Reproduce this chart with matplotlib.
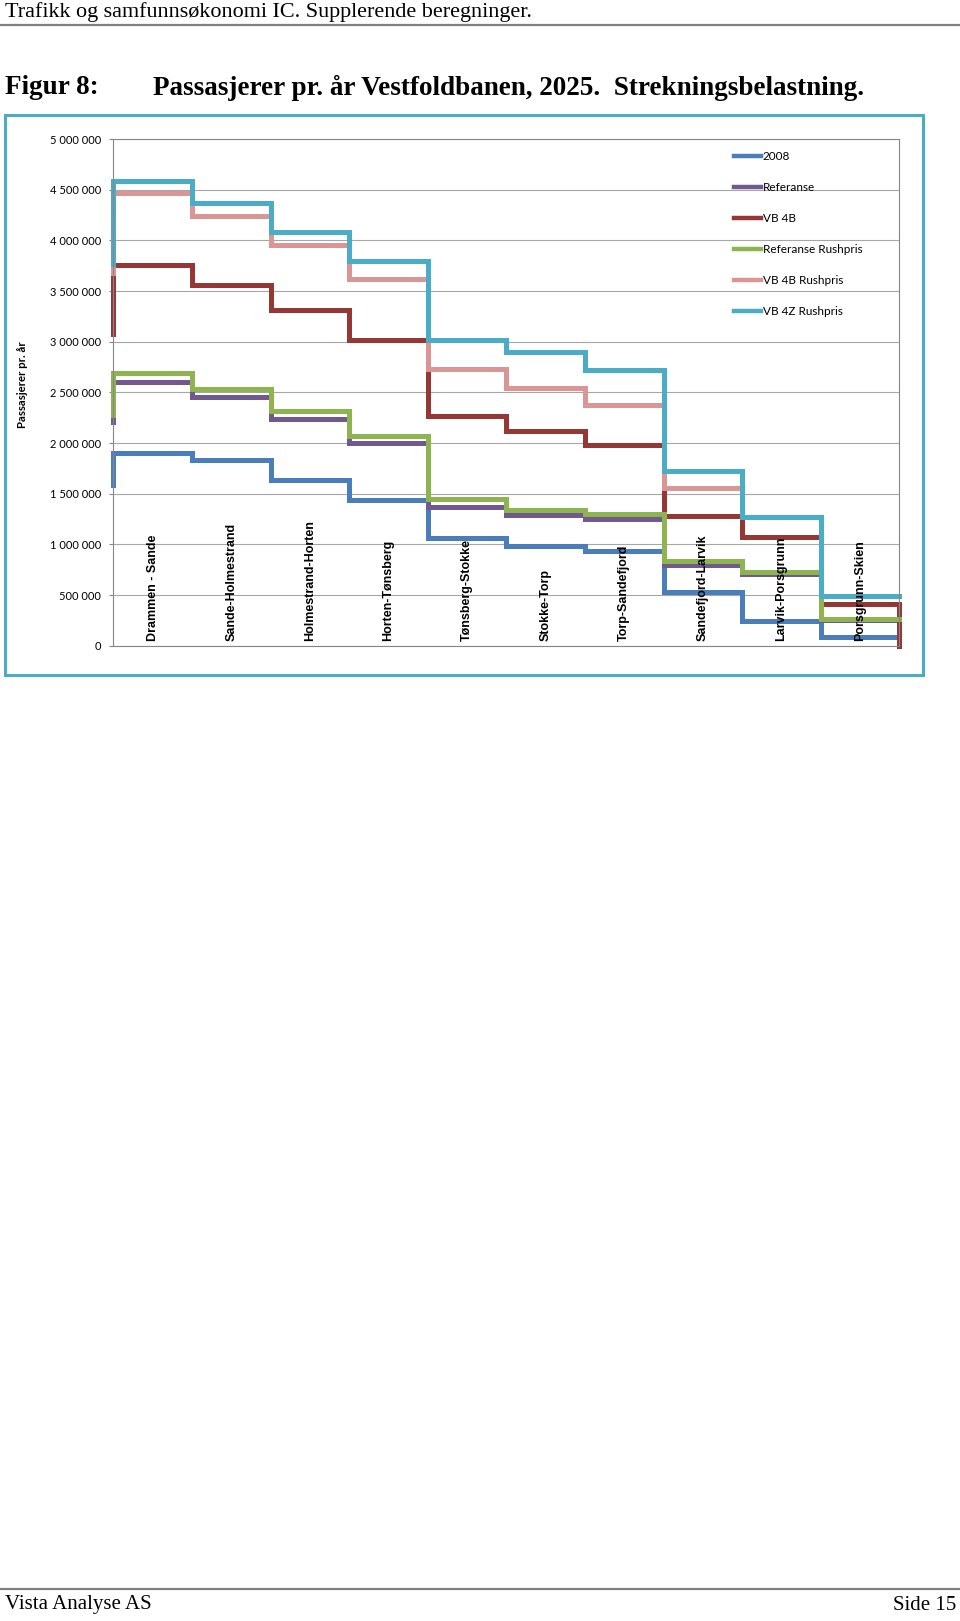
import numpy as np
import matplotlib.pyplot as plt
from matplotlib.patches import Rectangle
from matplotlib.lines import Line2D
from matplotlib.ticker import FuncFormatter

# Strekninger langs Vestfoldbanen (kategorier på x-aksen)
strekninger = ["Drammen - Sande", "Sande-Holmestrand", "Holmestrand-Horten",
               "Horten-Tønsberg", "Tønsberg-Stokke", "Stokke-Torp",
               "Torp-Sandefjord", "Sandefjord-Larvik", "Larvik-Porsgrunn",
               "Porsgrunn-Skien"]

# Passasjerer pr. år per strekning
v2008 = [1905000, 1830000, 1635000, 1437000, 1063000, 984000, 937000, 527000, 244000, 89000]
referanse = [2600000, 2450000, 2234000, 2000000, 1372000, 1287000, 1247000, 796000, 707000, 250000]
vb4b = [3760000, 3560000, 3310000, 3020000, 2267000, 2120000, 1977000, 1277000, 1076000, 410000]
ref_rush = [2690000, 2530000, 2316000, 2070000, 1445000, 1339000, 1300000, 839000, 730000, 260000]
vb4b_rush = [4470000, 4240000, 3950000, 3620000, 2727000, 2540000, 2375000, 1553000]
vb4z_rush = [4590000, 4370000, 4080000, 3800000, 3014000, 2895000, 2720000, 1727000, 1267000, 494000]

serie_navn = ["2008", "Referanse", "VB 4B", "Referanse Rushpris", "VB 4B Rushpris", "VB 4Z Rushpris"]
# startpunkt ved venstre kant og evt. sluttpunkt ved høyre kant
start_verdier = [1585000, 2210000, 3080000, 2280000, 3680000, 3770000]
slutt_verdier = [None, None, 0, None, None, None]
farger = ["#4A7EBB", "#71588F", "#953735", "#8DB44F", "#D99694", "#4BACC6"]

W, H = 960, 1621
fig = plt.figure(figsize=(W / 100, H / 100), dpi=100)

def fy(px):
    # piksel fra toppen -> figurbrøk
    return 1 - px / H

# header / footer
fig.text(5 / W, fy(12.5), "Trafikk og samfunnsøkonomi IC. Supplerende beregninger.",
         family="Liberation Serif", fontsize=15.9, va="center", ha="left")
fig.add_artist(Line2D([0, 1], [fy(25), fy(25)], color="#7f7f7f", lw=1.6, transform=fig.transFigure))
fig.text(5 / W, fy(88), "Figur 8:", family="Liberation Serif", fontsize=19.5,
         weight="bold", va="center", ha="left")
fig.text(153 / W, fy(88), "Passasjerer pr. år Vestfoldbanen, 2025.  Strekningsbelastning.",
         family="Liberation Serif", fontsize=19.5, weight="bold", va="center", ha="left")
fig.add_artist(Line2D([0, 1], [fy(1589), fy(1589)], color="#7f7f7f", lw=1.6, transform=fig.transFigure))
fig.text(5 / W, fy(1605), "Vista Analyse AS", family="Liberation Serif", fontsize=15,
         va="center", ha="left")
fig.text(956 / W, fy(1605), "Side 15", family="Liberation Serif", fontsize=15,
         va="center", ha="right")

# ramme rundt diagrammet
fig.add_artist(Rectangle((5 / W, fy(675)), (923 - 5) / W, (675 - 115) / H,
                         transform=fig.transFigure, fill=False,
                         edgecolor="#4BACC6", lw=2.2))

ax_l, ax_r, ax_t, ax_b = 113.3, 899.3, 139, 645.7
ax = fig.add_axes([ax_l / W, fy(ax_b), (ax_r - ax_l) / W, (ax_b - ax_t) / H])

serier = [v2008, referanse, vb4b, ref_rush, vb4b_rush, vb4z_rush]
for navn, verdier, start, slutt, farge in zip(serie_navn, serier, start_verdier, slutt_verdier, farger):
    n = len(verdier)
    x = np.r_[0, np.arange(n + 1)]
    y = np.r_[start, verdier, verdier[-1]]
    if slutt is not None:
        x = np.r_[x, n]
        y = np.r_[y, slutt]
    ax.step(x, y, where="post", color=farge, lw=3.6, label=navn,
            solid_joinstyle="miter", clip_on=False)

ax.set_xlim(0, len(strekninger))
ax.set_ylim(0, 5000000)
ax.set_yticks(np.arange(0, 5000001, 500000))
ax.yaxis.set_major_formatter(FuncFormatter(lambda v, p: f"{v:,.0f}".replace(",", " ")))
ax.set_xticks([])
ax.grid(axis="y", color="#A6A6A6", lw=0.8)
ax.set_axisbelow(True)
for s in ax.spines.values():
    s.set_color("#868686")
    s.set_linewidth(0.8)
ax.tick_params(axis="y", length=3, width=0.8, color="#868686", pad=6, labelsize=8)
for lbl in ax.get_yticklabels():
    lbl.set_family("Lato")

for i, navn in enumerate(strekninger):
    ax.text(i + 0.5, 0.01, navn, transform=ax.get_xaxis_transform(), rotation=90,
            ha="center", va="bottom", family="Liberation Sans", weight="bold",
            fontsize=9, zorder=10)

fig.text(22.7 / W, fy(385), "Passasjerer pr. år", rotation=90, family="Lato",
         weight="bold", fontsize=8.2, ha="center", va="center")

leg = ax.legend(loc="upper left", bbox_to_anchor=(0.79, 1 - 12 / (ax_b - ax_t)),
                frameon=False, borderpad=0, borderaxespad=0, handlelength=2.3,
                handletextpad=0.1, labelspacing=1.7, prop={"family": "Lato", "size": 8.5})
for h in leg.legend_handles:
    h.set_linewidth(3.2)

fig.savefig("out.png", dpi=100)
